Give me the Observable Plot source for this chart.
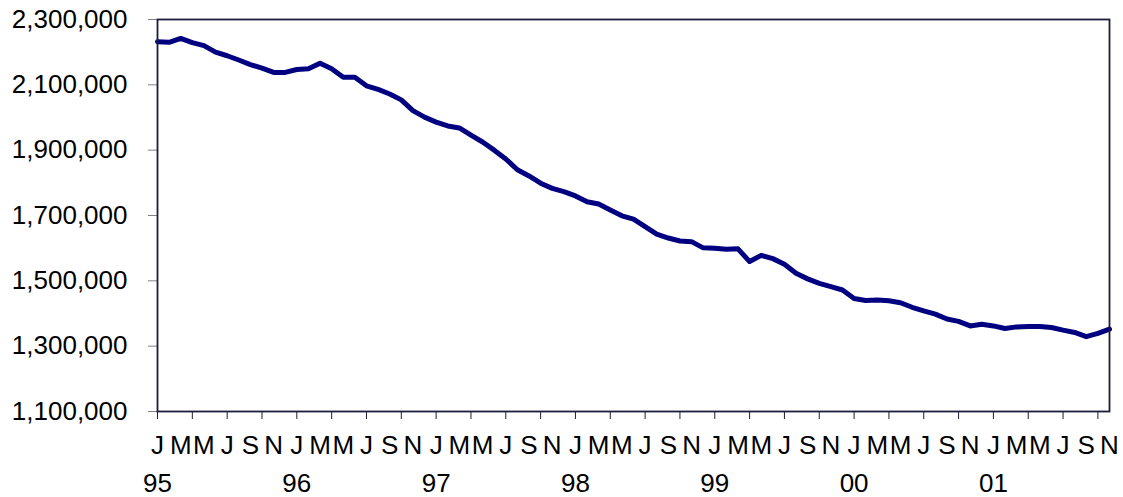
<!DOCTYPE html>
<html>
<head>
<meta charset="utf-8">
<script src="https://cdn.jsdelivr.net/npm/d3@7"></script>
<script src="https://cdn.jsdelivr.net/npm/@observablehq/plot@0.6"></script>
<style>
  html, body { margin: 0; padding: 0; background: #fff; }
  #chart { width: 1123px; height: 497px; }
  svg { font-family: "Liberation Sans", Arial, sans-serif; }
</style>
</head>
<body>
<div id="chart"></div>
<script>
// Monthly values, January 1995 to November 2001
const monthLetters = ["J","F","M","A","M","J","J","A","S","O","N","D"];
const yearLabels = ["95","96","97","98","99","00","01"];
const yTicks = [1100000, 1300000, 1500000, 1700000, 1900000, 2100000, 2300000];
const values = [
  2232000, 2230000, 2242000, 2229000, 2220000, 2200000, 2189000, 2176000, 2162000, 2151000, 2138000, 2138000,
  2147000, 2149000, 2166000, 2149000, 2123000, 2123000, 2097000, 2086000, 2072000, 2054000, 2021000, 2001000,
  1986000, 1974000, 1968000, 1946000, 1925000, 1900000, 1873000, 1840000, 1821000, 1799000, 1783000, 1773000,
  1760000, 1742000, 1735000, 1717000, 1699000, 1689000, 1666000, 1643000, 1631000, 1622000, 1620000, 1601000,
  1600000, 1597000, 1598000, 1559000, 1578000, 1568000, 1551000, 1523000, 1506000, 1492000, 1482000, 1472000,
  1446000, 1440000, 1441000, 1439000, 1433000, 1419000, 1408000, 1398000, 1383000, 1376000, 1362000, 1367000,
  1362000, 1354000, 1359000, 1360000, 1360000, 1357000, 1349000, 1342000, 1329000, 1339000, 1352000
];

const data = values.map((v, i) => ({i, v}));
const n = values.length;
const labelIdx = d3.range(0, n, 2);
const tickIdx = d3.range(0, n, 3);
const yearIdx = yearLabels.map((_, k) => k * 12);

const chart = Plot.plot({
  width: 1123,
  height: 497,
  marginLeft: 157,
  marginRight: 14,
  marginTop: 19,
  marginBottom: 86,
  style: {background: "#fff", color: "#000", fontFamily: "Liberation Sans, Arial, sans-serif"},
  x: {type: "linear", domain: [0, n - 1], axis: null},
  y: {domain: [1100000, 2300000], axis: null},
  marks: [
    Plot.axisY({ticks: yTicks, tickFormat: d3.format(","), tickSize: 9, tickPadding: 21, fontSize: 26, stroke: "#808080", fill: "#000", label: null}),
    Plot.axisX({ticks: tickIdx, tickFormat: () => "", tickSize: 8, stroke: "#1c1c3c", label: null}),
    Plot.axisX({ticks: labelIdx, tickFormat: i => monthLetters[i % 12], tickSize: 0, tickPadding: 24, fontSize: 26, fill: "#000", label: null}),
    Plot.axisX({ticks: yearIdx, tickFormat: i => yearLabels[i / 12], tickSize: 0, tickPadding: 62, fontSize: 26, fill: "#000", label: null}),
    Plot.line(data, {x: "i", y: "v", stroke: "#000080", strokeWidth: 5, strokeLinejoin: "round"}),
    Plot.frame({stroke: "#1c1c3c", strokeWidth: 1.8})
  ]
});
document.getElementById("chart").appendChild(chart);
</script>
</body>
</html>
